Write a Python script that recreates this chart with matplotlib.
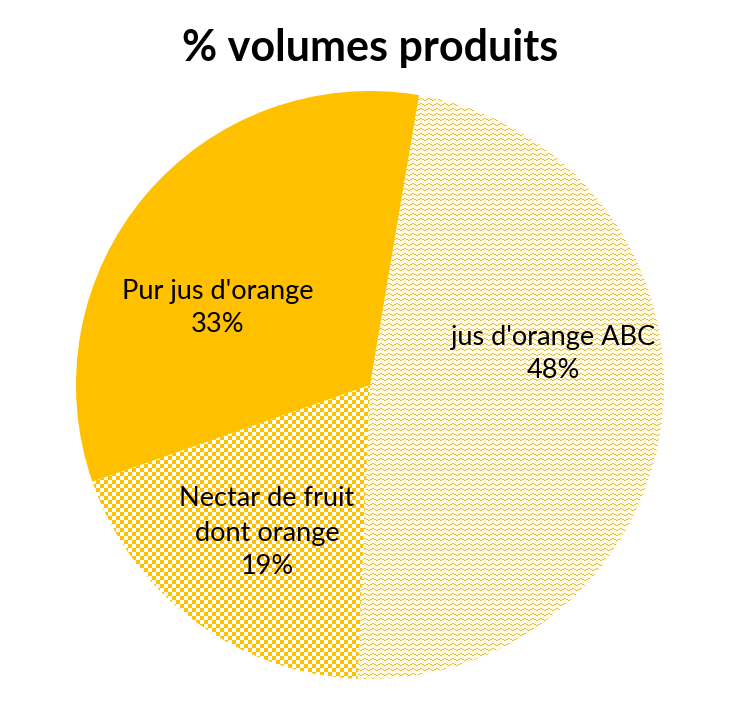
import numpy as np
import matplotlib
matplotlib.use('Agg')
import matplotlib.pyplot as plt

plt.rcParams['font.family'] = ['Lato', 'DejaVu Sans']

# data
categories = ["jus d'orange ABC", "Nectar de fruit\ndont orange", "Pur jus d'orange"]
shares = [48, 19, 33]
title = '% volumes produits'

W, H = 748, 718
ORANGE = '#FFC000'


def checker_pattern(h, w, size=4):
    yy, xx = np.mgrid[0:h, 0:w]
    on = ((yy // size + xx // size) % 2) == 0
    img = np.ones((h, w, 3))
    img[on] = matplotlib.colors.to_rgb(ORANGE)
    return img


def zigzag_pattern(h, w):
    yy, xx = np.mgrid[0:h, 0:w]
    offs = np.array([0, 0, 1, 1, 2, 2, 1, 1])
    on = ((yy + offs[xx % 8]) % 5) == 0
    img = np.empty((h, w, 3))
    img[:] = matplotlib.colors.to_rgb('#FFFBE6')
    img[on] = matplotlib.colors.to_rgb('#E8BD40')
    return img


fig = plt.figure(figsize=(W / 100, H / 100), dpi=100)
ax = fig.add_axes([0, 0, 1, 1])

wedges, _ = ax.pie(shares, center=(370, H - 385), radius=294,
                   startangle=80.4, counterclock=False,
                   colors=['none', 'none', ORANGE],
                   wedgeprops=dict(linewidth=0), frame=True)

patterns = [zigzag_pattern(H, W), checker_pattern(H, W), None]
for w, pat in zip(wedges, patterns):
    if pat is None:
        continue
    im = ax.imshow(pat, extent=(0, W, 0, H), origin='upper',
                   interpolation='nearest', zorder=0.5)
    im.set_clip_path(w)

ax.set_xlim(0, W)
ax.set_ylim(0, H)
ax.set_aspect('auto')
ax.axis('off')

label_pos = [(553, 354), (267, 533), (218, 308)]
for (x, y), cat, s in zip(label_pos, categories, shares):
    ax.text(x, H - y, '%s\n%d%%' % (cat, s), ha='center', va='center',
            fontsize=19.5, linespacing=1.45, color='black', zorder=3)

ax.text(370, H - 48, title, ha='center', va='center', fontsize=31,
        fontweight='bold', zorder=3)

fig.savefig('out.png', dpi=100)
